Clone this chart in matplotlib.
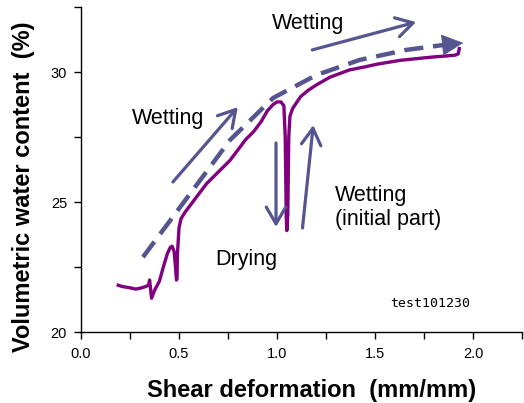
import matplotlib
matplotlib.use('Agg')
import matplotlib.pyplot as plt
from matplotlib.ticker import MultipleLocator

plt.rcParams['font.family'] = ['Liberation Sans', 'DejaVu Sans']

# measured curve (shear deformation vs water content)
shear = [0.19, 0.21, 0.25, 0.28, 0.31, 0.33, 0.345, 0.35, 0.36, 0.375, 0.40, 0.42,
         0.44, 0.455, 0.465, 0.475, 0.482, 0.487, 0.49, 0.492, 0.50, 0.51, 0.53,
         0.56, 0.60, 0.64, 0.70, 0.76, 0.80, 0.84, 0.88, 0.92, 0.95, 0.98, 1.00,
         1.02, 1.035, 1.042, 1.047, 1.05, 1.055, 1.06, 1.066, 1.08, 1.12, 1.16,
         1.20, 1.27, 1.37, 1.45, 1.51, 1.63, 1.72, 1.80, 1.87, 1.91, 1.925, 1.93]
water = [21.8, 21.75, 21.7, 21.65, 21.7, 21.75, 21.8, 22.0, 21.3, 21.6, 21.95, 22.5,
         23.0, 23.25, 23.3, 23.1, 22.5, 22.0, 22.05, 23.0, 24.0, 24.35, 24.6,
         24.9, 25.3, 25.7, 26.15, 26.6, 27.0, 27.4, 27.7, 28.1, 28.5, 28.75, 28.85,
         28.85, 28.7, 27.5, 24.5, 23.9, 24.5, 27.5, 28.3, 28.6, 29.05, 29.3,
         29.5, 29.8, 30.08, 30.2, 30.3, 30.45, 30.52, 30.58, 30.62, 30.65, 30.7, 30.9]

# dashed trend line
trend_x = [0.316, 0.54, 0.76, 0.98, 1.2, 1.42, 1.66, 1.85]
trend_y = [22.88, 25.15, 27.38, 29.0, 29.88, 30.46, 30.85, 31.04]
trend_tip = (1.95, 31.12)

# straight arrows: (start, tip)
arrows = [((0.469, 25.77), (0.80, 28.65)),
          ((1.18, 30.85), (1.71, 31.92)),
          ((0.995, 27.27), (0.995, 24.04)),
          ((1.13, 24.0), (1.185, 27.96))]

labels = [('Wetting', 1.158, 31.85, 'center'),
          ('Wetting', 0.444, 28.23, 'center'),
          ('Drying', 0.842, 22.8, 'center'),
          ('Wetting\n(initial part)', 1.296, 24.8, 'left')]

xticks = [0.0, 0.5, 1.0, 1.5, 2.0]
yticks = [20, 25, 30]

purple = '#800080'
slate = '#55558f'

fig = plt.figure(figsize=(5.24, 4.03), dpi=100)
ax = fig.add_axes([81 / 524, 71 / 403, 441 / 524, 325 / 403])

ax.plot(shear, water, color=purple, lw=2.4, solid_joinstyle='round')
ax.plot(trend_x, trend_y, color=slate, lw=3.2, dashes=(4.3, 2.2))
ax.annotate('', xy=trend_tip, xytext=(trend_x[-1], trend_y[-1]),
            arrowprops=dict(arrowstyle='-|>,head_length=0.8,head_width=0.4',
                            mutation_scale=18, lw=0.5, color=slate,
                            shrinkA=0, shrinkB=0))
ax.plot([trend_x[-1], trend_tip[0] - 0.04], [trend_y[-1], trend_tip[1] - 0.03],
        color=slate, lw=3.2, solid_capstyle='butt')

for start, tip in arrows:
    ax.annotate('', xy=tip, xytext=start,
                arrowprops=dict(arrowstyle='->,head_length=0.6,head_width=0.35',
                                mutation_scale=20, lw=2.3, color=slate,
                                shrinkA=0, shrinkB=0))

for txt, x, y, ha in labels:
    ax.text(x, y, txt, fontsize=15.5, ha=ha, va='center', color='black',
            linespacing=1.2)

ax.text(1.78, 21.08, 'test101230', fontsize=9.5, family='DejaVu Sans Mono',
        ha='center', va='center')

ax.set_xlim(0, 2.25)
ax.set_ylim(20, 32.5)
ax.set_xticks(xticks)
ax.set_xticklabels(['%.1f' % v for v in xticks])
ax.set_yticks(yticks)
ax.xaxis.set_minor_locator(MultipleLocator(0.25))
ax.yaxis.set_minor_locator(MultipleLocator(2.5))
ax.tick_params(which='both', direction='out', length=5, width=1, labelsize=10.5)
ax.tick_params(axis='x', pad=6)
ax.tick_params(axis='y', pad=5)

for s in ['top', 'right']:
    ax.spines[s].set_visible(False)
for s in ['left', 'bottom']:
    ax.spines[s].set_linewidth(1)

ax.set_xlabel('Shear deformation  (mm/mm)', fontsize=17, fontweight='bold', va='center')
ax.xaxis.set_label_coords((312 - 81) / 441, (332 - 390) / 325)
ax.set_ylabel('Volumetric water content  (%)', fontsize=17, fontweight='bold', va='center')
ax.yaxis.set_label_coords((24 - 81) / 441, (332 - 187) / 325)

fig.savefig('out.png', dpi=100)
